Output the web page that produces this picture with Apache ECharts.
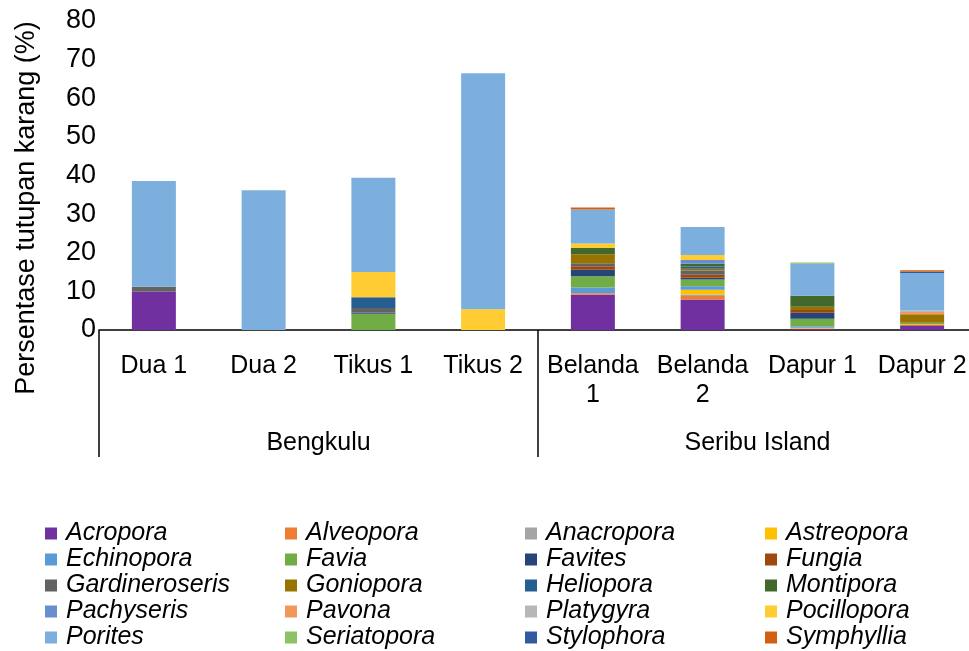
<!DOCTYPE html>
<html>
<head>
<meta charset="utf-8">
<script src="https://cdn.jsdelivr.net/npm/echarts@6/dist/echarts.min.js"></script>
<style>
html,body{margin:0;padding:0;background:#fff;overflow:hidden;}
#c{width:985px;height:651px;}
</style>
</head>
<body>
<div id="c"></div>
<script>
// ---- data ----
const categories = ['Dua 1','Dua 2','Tikus 1','Tikus 2','Belanda\n1','Belanda\n2','Dapur 1','Dapur 2'];
const groups = ['Bengkulu','Seribu Island'];
const yTicks = [0,10,20,30,40,50,60,70,80];

const Acropora       = [9.9, 0,    0,    0,    9.1, 7.9,  0.3,  1.2];
const Alveopora      = [0,   0,    0,    0,    0.4, 0.9,  0,    0];
const Anacropora     = [0,   0,    0,    0,    0,   0.4,  0,    0];
const Astreopora     = [0,   0,    0,    0,    0,   1.2,  0.3,  0.35];
const Echinopora     = [0,   0,    0,    0,    1.5, 0.95, 0.4,  0];
const Favia          = [0,   0,    4.2,  0,    2.9, 1.7,  1.9,  0.35];
const Favites        = [0,   0,    0.3,  0,    1.7, 0.45, 1.55, 0];
const Fungia         = [0,   0,    0,    0,    0.9, 0.8,  0.7,  0];
const Gardineroseris = [1.3, 0,    1.2,  0,    0.8, 1.1,  0,    0];
const Goniopora      = [0,   0,    0,    0,    2.3, 0.45, 0.85, 2.15];
const Heliopora      = [0,   0,    2.8,  0,    0,   0.6,  0,    0];
const Montipora      = [0,   0,    0,    0,    1.6, 0.7,  2.85, 0];
const Pachyseris     = [0,   0,    0,    0,    0,   0.95, 0,    0];
const Pavona         = [0,   0,    0,    0,    0,   0,    0,    0.6];
const Platygyra      = [0,   0,    0,    0,    0,   0,    0,    0.4];
const Pocillopora    = [0,   0,    6.5,  5.4,  1.2, 1.3,  0,    0];
const Porites        = [27.4,36.2, 24.4, 61.1, 8.8, 7.25, 8.3,  9.7];
const Seriatopora    = [0,   0,    0,    0,    0,   0,    0.35, 0];
const Stylophora     = [0,   0,    0,    0,    0,   0,    0,    0.3];
const Symphyllia     = [0,   0,    0,    0,    0.5, 0,    0,    0.4];

const seriesNames = ['Acropora','Alveopora','Anacropora','Astreopora','Echinopora','Favia','Favites','Fungia',
  'Gardineroseris','Goniopora','Heliopora','Montipora','Pachyseris','Pavona','Platygyra','Pocillopora',
  'Porites','Seriatopora','Stylophora','Symphyllia'];
const seriesValues = [Acropora,Alveopora,Anacropora,Astreopora,Echinopora,Favia,Favites,Fungia,
  Gardineroseris,Goniopora,Heliopora,Montipora,Pachyseris,Pavona,Platygyra,Pocillopora,
  Porites,Seriatopora,Stylophora,Symphyllia];
const colors = ['#7030A0','#ED7D31','#A5A5A5','#FFC000','#5B9BD5','#70AD47','#264478','#9E480E',
  '#636363','#997300','#255E91','#43682B','#698ED0','#F1975A','#B7B7B7','#FFCD33',
  '#7CAFDD','#8CC168','#335AA1','#D26012'];

const FONT = 'Liberation Sans, Arial, sans-serif';
const chart = echarts.init(document.getElementById('c'), null, {renderer:'canvas'});

const option = {
  animation: false,
  color: colors,
  grid: {left: 99, top: 21, width: 878, height: 309, containLabel: false},
  xAxis: [{
    type: 'category',
    data: categories,
    position: 'bottom',
    axisLine: {show: true, lineStyle: {color: '#000', width: 1.5}},
    axisTick: {show: false},
    axisLabel: {color: '#000', fontFamily: FONT, fontSize: 25, lineHeight: 29, margin: 22, interval: 0}
  }, {
    type: 'category',
    data: groups,
    position: 'bottom',
    gridIndex: 0,
    axisLine: {show: false},
    axisTick: {show: false},
    axisLabel: {color: '#000', fontFamily: FONT, fontSize: 25, lineHeight: 29, margin: 99, interval: 0}
  }],
  yAxis: {
    type: 'value', min: 0, max: 80, interval: 10,
    axisLine: {show: false},
    axisTick: {show: false},
    splitLine: {show: false},
    axisLabel: {color: '#000', fontFamily: FONT, fontSize: 27, margin: 3,
      formatter: v => yTicks.indexOf(v) >= 0 ? String(v) : ''}
  },
  legend: {
    data: seriesNames,
    left: 45, top: 521, width: 960,
    padding: 0,
    icon: 'rect', itemWidth: 12, itemHeight: 12, itemGap: 1,
    textStyle: {fontStyle: 'italic', fontFamily: FONT, fontSize: 25, color: '#000',
      width: 218, lineHeight: 24, padding: [0,0,0,4]}
  },
  series: seriesNames.map((n, i) => ({
    name: n, type: 'bar', stack: 'total', barWidth: 44,
    data: seriesValues[i],
    itemStyle: {color: colors[i]}
  })),
  graphic: [{
    type: 'text', x: 27, y: 208, rotation: Math.PI / 2,
    style: {text: 'Persentase tutupan karang (%)', font: '27px ' + FONT, fill: '#000',
      align: 'center', verticalAlign: 'middle'}
  }]
};
chart.setOption(option);

// group separator lines at category boundaries
const p0 = chart.convertToPixel({xAxisIndex: 0}, categories[0]);
const p1 = chart.convertToPixel({xAxisIndex: 0}, categories[1]);
const band = p1 - p0;
const y0 = chart.convertToPixel({yAxisIndex: 0}, 0);
const sepIdx = [0, 4];
chart.setOption({
  graphic: [option.graphic[0]].concat(sepIdx.map(i => {
    const x = chart.convertToPixel({xAxisIndex: 0}, categories[i]) - band / 2;
    return {type: 'line', shape: {x1: x, y1: y0, x2: x, y2: y0 + 127},
      style: {stroke: '#000', lineWidth: 1.5}};
  }))
});
</script>
</body>
</html>
